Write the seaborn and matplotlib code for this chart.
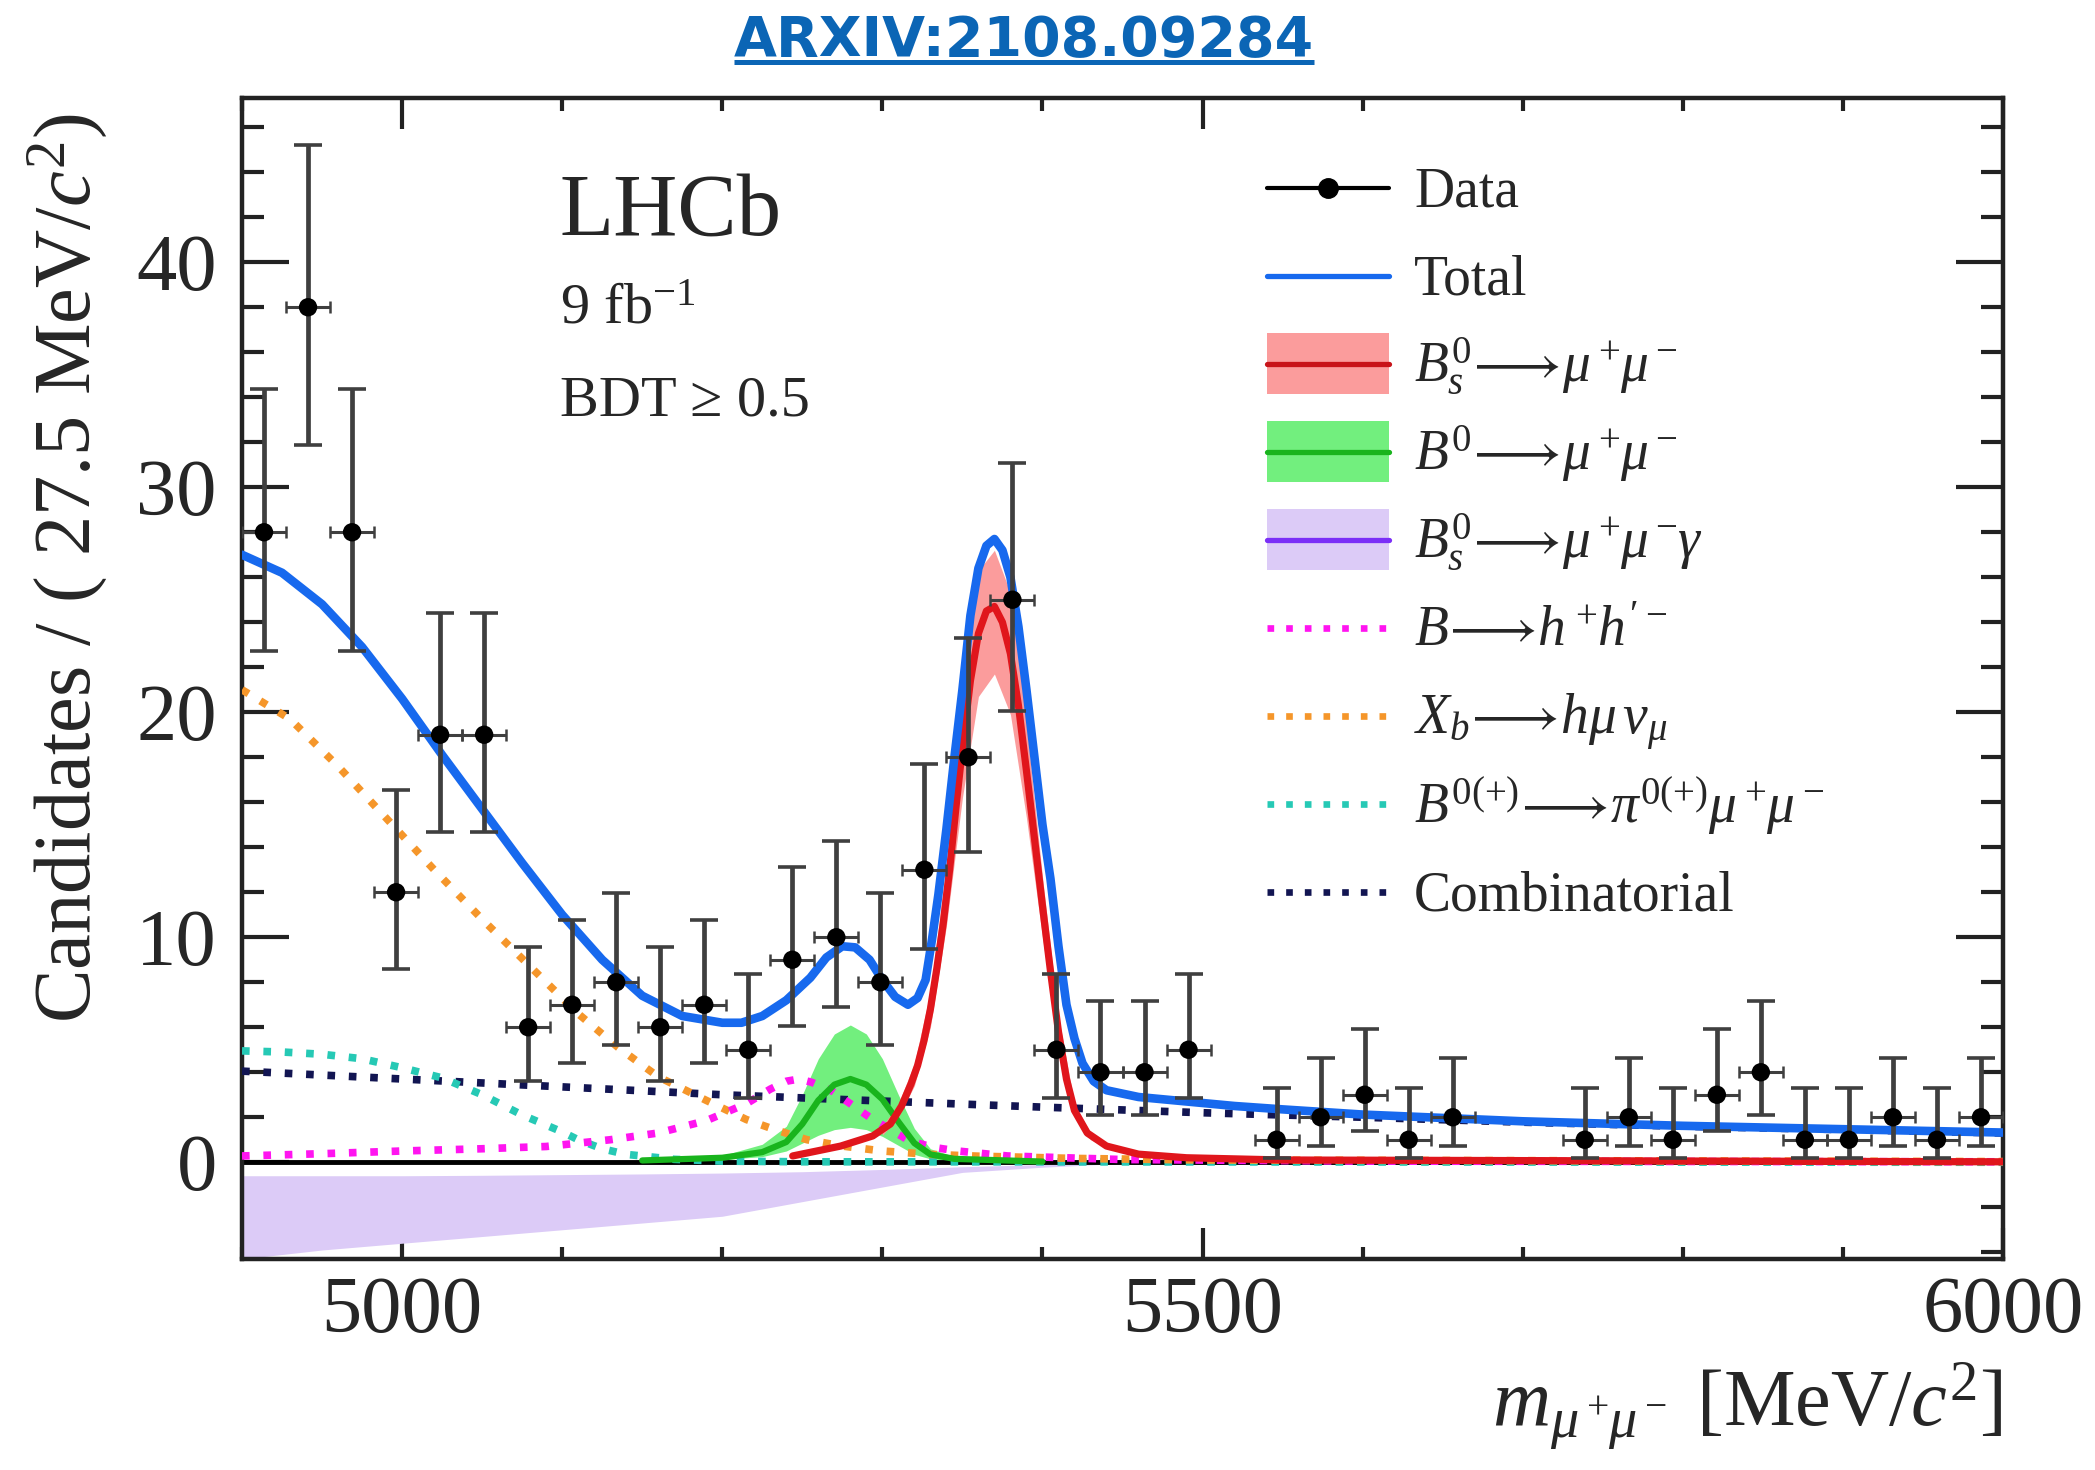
import numpy as np
import matplotlib
matplotlib.use("Agg")
import matplotlib.pyplot as plt
import seaborn as sns
from matplotlib.lines import Line2D
from matplotlib.patches import Rectangle
from matplotlib.legend_handler import HandlerTuple, HandlerPatch, HandlerLine2D
from matplotlib.ticker import MultipleLocator

# ---------------- data ----------------
M_MIN = 4900.0
BIN_W = 27.5
counts = [28, 38, 28, 12, 19, 19, 6, 7, 8, 6, 7, 5, 9, 10, 8, 13, 18, 25, 5, 4,
          4, 5, 0, 1, 2, 3, 1, 2, 0, 0, 1, 2, 1, 3, 4, 1, 1, 2, 1, 2]
err_lo = [5.26, 6.13, 5.26, 3.40, 4.32, 4.32, 2.38, 2.58, 2.77, 2.38, 2.58, 2.16, 2.94, 3.11,
          2.77, 3.53, 4.20, 4.96, 2.16, 1.91, 1.91, 2.16, 0, 0.83, 1.29, 1.63, 0.83, 1.29,
          0, 0, 0.83, 1.29, 0.83, 1.63, 1.91, 0.83, 0.83, 1.29, 0.83, 1.29]
err_hi = [6.35, 7.22, 6.35, 4.56, 5.43, 5.43, 3.58, 3.77, 3.95, 3.58, 3.77, 3.38, 4.11, 4.27,
          3.95, 4.70, 5.32, 6.06, 3.38, 3.16, 3.16, 3.38, 0, 2.30, 2.64, 2.92, 2.30, 2.64,
          0, 0, 2.30, 2.64, 2.30, 2.92, 3.16, 2.30, 2.30, 2.64, 2.30, 2.64]

total_m = [4900, 4925, 4950, 4975, 5000, 5025, 5050, 5075, 5100, 5125, 5150, 5175, 5200, 5212,
           5225, 5240, 5255, 5265, 5275, 5283, 5292, 5300, 5308, 5316, 5322, 5327, 5331, 5335,
           5340, 5345, 5350, 5355, 5360, 5365, 5370, 5375, 5380, 5385, 5390, 5395, 5400, 5405,
           5410, 5415, 5420, 5425, 5432, 5440, 5460, 5490, 5520, 5550, 5600, 5700, 5800, 5900, 6000]
total_y = [27.0, 26.2, 24.8, 22.9, 20.6, 18.1, 15.7, 13.3, 11.0, 9.0, 7.4, 6.5, 6.2, 6.2,
           6.5, 7.2, 8.2, 9.1, 9.6, 9.55, 9.0, 8.1, 7.35, 7.0, 7.3, 8.1, 9.9, 11.9,
           14.8, 18.0, 21.0, 24.3, 26.4, 27.4, 27.7, 27.2, 26.0, 23.8, 21.0, 18.0, 15.0, 12.6,
           9.6, 7.0, 5.5, 4.4, 3.6, 3.2, 2.9, 2.7, 2.5, 2.35, 2.12, 1.82, 1.62, 1.47, 1.32]

bs_m = [5244, 5274, 5294, 5305, 5312, 5318, 5322, 5326, 5330, 5334, 5338, 5342, 5346, 5350,
        5355, 5360, 5365, 5370, 5375, 5380, 5385, 5390, 5395, 5400, 5405, 5410, 5415, 5420,
        5428, 5440, 5460, 5490, 5550, 6000]
bs_y = [0.28, 0.72, 1.17, 1.7, 2.5, 3.5, 4.3, 5.4, 6.8, 8.6, 10.6, 13.0, 15.8, 18.4,
        21.4, 23.5, 24.5, 24.7, 24.0, 22.6, 20.3, 17.4, 14.4, 11.4, 8.5, 5.8, 3.7, 2.3,
        1.3, 0.72, 0.36, 0.2, 0.1, 0.02]
bs_band_m = [5300, 5310, 5320, 5330, 5340, 5350, 5360, 5370, 5380, 5390, 5400, 5410, 5420, 5430, 5440]
bs_band_lo = [1.2, 2.0, 3.4, 6.0, 10.5, 16.2, 20.7, 21.7, 19.9, 15.3, 10.0, 5.1, 2.0, 1.0, 0.63]
bs_band_hi = [1.6, 2.6, 4.4, 7.6, 13.3, 20.6, 26.3, 27.2, 25.3, 19.5, 12.7, 6.5, 2.6, 1.3, 0.8]

bd_m = [5150, 5200, 5225, 5240, 5250, 5260, 5270, 5280, 5290, 5300, 5310, 5320, 5330, 5345, 5400]
bd_y = [0.08, 0.2, 0.45, 0.9, 1.7, 2.75, 3.45, 3.7, 3.45, 2.8, 1.8, 0.85, 0.35, 0.15, 0.03]
bd_band_lo = [0.05, 0.12, 0.25, 0.5, 0.85, 1.2, 1.45, 1.55, 1.45, 1.15, 0.75, 0.35, 0.15, 0.07, 0.02]
bd_band_hi = [0.12, 0.3, 0.8, 1.6, 3.0, 4.6, 5.7, 6.1, 5.7, 4.6, 3.0, 1.5, 0.6, 0.25, 0.05]

bsg_band_m = [4900, 4950, 5000, 5050, 5100, 5150, 5200, 5250, 5300, 5350, 5400, 5450]
bsg_band_hi = [-0.6, -0.6, -0.6, -0.58, -0.55, -0.52, -0.48, -0.42, -0.32, -0.2, -0.1, -0.03]
bsg_band_lo = [-4.3, -3.9, -3.6, -3.3, -3.0, -2.7, -2.4, -1.75, -1.1, -0.45, -0.22, -0.05]

hh_m = [4900, 4950, 5000, 5050, 5090, 5130, 5160, 5190, 5215, 5230, 5240, 5248, 5256, 5269,
        5280, 5292, 5305, 5317, 5332, 5347, 5378, 5450, 5600, 6000]
hh_y = [0.28, 0.38, 0.5, 0.6, 0.7, 1.0, 1.3, 1.85, 2.6, 3.25, 3.6, 3.7, 3.55, 3.15,
        2.6, 2.0, 1.45, 0.95, 0.66, 0.5, 0.28, 0.12, 0.05, 0.02]

xb_m = [4900, 4930, 4960, 4990, 5020, 5050, 5080, 5110, 5135, 5160, 5190, 5215, 5232, 5253,
        5275, 5300, 5330, 5360, 5420, 5500, 6000]
xb_y = [21.0, 19.7, 17.6, 15.3, 13.0, 10.8, 8.7, 6.6, 5.1, 3.8, 2.75, 1.9, 1.47, 1.0,
        0.72, 0.5, 0.35, 0.27, 0.17, 0.1, 0.03]

pi_m = [4900, 4925, 4950, 4975, 5000, 5025, 5050, 5075, 5100, 5110, 5125, 5140, 5170, 5200, 5250, 6000]
pi_y = [4.95, 4.9, 4.8, 4.6, 4.2, 3.75, 3.0, 2.1, 1.35, 1.0, 0.6, 0.35, 0.13, 0.05, 0.02, 0.0]

comb_m = [4900, 5000, 5100, 5200, 5300, 5400, 5500, 5600, 5700, 5800, 5900, 6000]
comb_y = [4.05, 3.7, 3.35, 3.0, 2.72, 2.45, 2.2, 2.0, 1.78, 1.6, 1.45, 1.3]

# ---------------- style ----------------
BLUE = "#1769ee"
RED = "#e0161c"
RED_BAND = "#fb9c9c"
GREEN = "#19b41d"
GREEN_BAND = "#72ef7e"
PURPLE = "#7b2ff7"
PURPLE_BAND = "#dccbf7"
MAGENTA = "#ff14f0"
ORANGE = "#f5962a"
CYAN = "#26c9b5"
NAVY = "#121552"
TXT = "#262626"
DOT = (0, (1.0, 1.8))

sns.set_theme(style="ticks")
plt.rcParams["font.family"] = ["Liberation Serif", "DejaVu Serif"]
plt.rcParams["mathtext.fontset"] = "custom"
plt.rcParams["mathtext.rm"] = "Liberation Serif"
plt.rcParams["mathtext.it"] = "Liberation Serif:italic"
plt.rcParams["mathtext.bf"] = "Liberation Serif:bold"
plt.rcParams["mathtext.fallback"] = "stix"
plt.rcParams["axes.unicode_minus"] = True

W, H = 2095, 1470
fig = plt.figure(figsize=(W / 100, H / 100), dpi=100, facecolor="white")
ax = fig.add_axes([242 / W, 1 - 1259 / H, (2003 - 242) / W, (1259 - 98) / H])
ax.set_facecolor("white")

# bands
ax.fill_between(bsg_band_m, bsg_band_lo, bsg_band_hi, color=PURPLE_BAND, lw=0, zorder=1)
ax.fill_between(bd_m, bd_band_lo, bd_band_hi, color=GREEN_BAND, lw=0, zorder=1.2)
ax.fill_between(bs_band_m, bs_band_lo, bs_band_hi, color=RED_BAND, lw=0, zorder=1.4)

ax.axhline(0, color="black", lw=3.5, zorder=2)

# dotted components
for xs, ys, c in [(comb_m, comb_y, NAVY), (pi_m, pi_y, CYAN), (xb_m, xb_y, ORANGE), (hh_m, hh_y, MAGENTA)]:
    sns.lineplot(x=xs, y=ys, ax=ax, color=c, lw=5.5, linestyle=DOT, errorbar=None,
                 sort=False, estimator=None, zorder=3)

sns.lineplot(x=bd_m, y=bd_y, ax=ax, color=GREEN, lw=4.5, errorbar=None, sort=False, estimator=None, zorder=4)
sns.lineplot(x=bs_m, y=bs_y, ax=ax, color=RED, lw=5.2, errorbar=None, sort=False, estimator=None, zorder=4.2)
sns.lineplot(x=total_m, y=total_y, ax=ax, color=BLUE, lw=6.2, errorbar=None, sort=False, estimator=None, zorder=5)

# data points
cnt = np.array(counts, dtype=float)
centers = M_MIN + BIN_W * (np.arange(len(cnt)) + 0.5)
mask = cnt > 0
xd, yd = centers[mask], cnt[mask]
elo, ehi = np.array(err_lo)[mask], np.array(err_hi)[mask]
ax.errorbar(xd, yd, yerr=[elo, ehi], fmt="none", ecolor="#3f3f3f", elinewidth=3.4,
            capsize=10, capthick=2.6, zorder=6)
ax.errorbar(xd, yd, xerr=BIN_W / 2, fmt="none", ecolor="#3f3f3f", elinewidth=2.2,
            capsize=4.5, capthick=1.8, zorder=6)
sns.scatterplot(x=xd, y=yd, ax=ax, color="black", s=175, edgecolor="none", zorder=7, legend=False)

# axes
ax.set_xlim(4900, 6000)
ax.set_ylim(-4.3, 47.3)
ax.xaxis.set_major_locator(MultipleLocator(500))
ax.xaxis.set_minor_locator(MultipleLocator(100))
ax.yaxis.set_major_locator(MultipleLocator(10))
ax.yaxis.set_minor_locator(MultipleLocator(2))
ax.tick_params(axis="x", which="major", direction="in", length=22, width=3, top=True, bottom=True,
               labelsize=58, pad=12, color="#222222", labelcolor=TXT)
ax.tick_params(axis="x", which="minor", direction="in", length=9, width=3, top=True, bottom=True,
               color="#222222")
ax.tick_params(axis="y", which="major", direction="in", length=34, width=3, left=True, right=True,
               labelsize=58, pad=18, color="#222222", labelcolor=TXT)
ax.tick_params(axis="y", which="minor", direction="in", length=16, width=3, left=True, right=True,
               color="#222222")
for s in ax.spines.values():
    s.set_linewidth(3.2)
    s.set_color("#222222")

ax.set_ylabel("Candidates / ( 27.5 MeV/$c^2$)", fontsize=58, color=TXT, loc="top")
ax.yaxis.set_label_coords(-0.075, 0.987)
ax.set_xlabel(r"$m_{\mu^+\!\mu^-}$ [MeV/$c^2$]", fontsize=58, color=TXT, loc="right")
ax.xaxis.set_label_coords(1.0, -0.088)

# annotations
fig.text(560 / W, 1 - 235 / H, "LHCb", fontsize=64, color=TXT, ha="left", va="baseline")
fig.text(560 / W, 1 - 323 / H, r"9 fb$^{-1}$", fontsize=42, color=TXT, ha="left", va="baseline")
fig.text(560 / W, 1 - 415 / H, "BDT \u2265 0.5", fontsize=42, color=TXT, ha="left", va="baseline")

# legend
class ShiftLine(HandlerLine2D):
    def __init__(self, dy, **kw):
        super().__init__(**kw)
        self.dy = dy

    def create_artists(self, legend, orig_handle, xdescent, ydescent, width, height, fontsize, trans):
        arts = super().create_artists(legend, orig_handle, xdescent, ydescent, width, height, fontsize, trans)
        for a in arts:
            a.set_ydata(np.asarray(a.get_ydata(), dtype=float) - self.dy * fontsize)
        return arts

DY = 0.18

def band_patch(legend, orig_handle, xdescent, ydescent, width, height, fontsize):
    bh = 1.1 * fontsize
    yc = (height - ydescent) / 2.0 - DY * fontsize
    return Rectangle((-xdescent, yc - bh / 2.0), width, bh)

handles = [
    Line2D([], [], color="black", marker="o", ms=14, lw=3),
    Line2D([], [], color=BLUE, lw=3.8),
    (Rectangle((0, 0), 1, 1, fc=RED_BAND, ec="none"), Line2D([], [], color="#c8141a", lw=3.8)),
    (Rectangle((0, 0), 1, 1, fc=GREEN_BAND, ec="none"), Line2D([], [], color=GREEN, lw=3.8)),
    (Rectangle((0, 0), 1, 1, fc=PURPLE_BAND, ec="none"), Line2D([], [], color=PURPLE, lw=3.8)),
    Line2D([], [], color=MAGENTA, lw=4.8, linestyle=DOT),
    Line2D([], [], color=ORANGE, lw=4.8, linestyle=DOT),
    Line2D([], [], color=CYAN, lw=4.8, linestyle=DOT),
    Line2D([], [], color=NAVY, lw=4.8, linestyle=DOT),
]
ARR = r"\!\longrightarrow\!"
labels = [
    "Data",
    "Total",
    r"$B^0_s" + ARR + r"\mu^+\!\mu^-$",
    r"$B^0" + ARR + r"\mu^+\!\mu^-$",
    r"$B^0_s" + ARR + r"\mu^+\!\mu^-\!\gamma$",
    r"$B" + ARR + r"h^+\!h'^-$",
    r"$X_b" + ARR + r"h\mu\,\nu_\mu$",
    r"$B^{0(+)}" + ARR + r"\pi^{0(+)}\mu^+\!\mu^-$",
    "Combinatorial",
]
leg = ax.legend(handles, labels, loc="upper left", bbox_to_anchor=(1267 / W, 1 - 149 / H),
                bbox_transform=fig.transFigure, frameon=False, fontsize=40, labelcolor=TXT,
                handlelength=2.2, handleheight=1.8, handletextpad=0.45, labelspacing=0.17,
                borderpad=0, borderaxespad=0,
                handler_map={Line2D: ShiftLine(DY), Rectangle: HandlerPatch(patch_func=band_patch),
                             tuple: HandlerTuple(ndivide=1, pad=0)})

# title with underline
title = fig.text(1024 / W, 1 - 56 / H, "ARXIV:2108.09284", fontsize=40, fontweight="bold",
                 family="DejaVu Sans", color="#0b65b5", ha="center", va="baseline")
fig.canvas.draw()
bb = title.get_window_extent()
fig.add_artist(Line2D([bb.x0 / W, bb.x1 / W], [1 - 62 / H, 1 - 62 / H], transform=fig.transFigure,
                      color="#0b65b5", lw=3.6, solid_capstyle="butt"))

fig.savefig("out.png", dpi=100, facecolor="white")
